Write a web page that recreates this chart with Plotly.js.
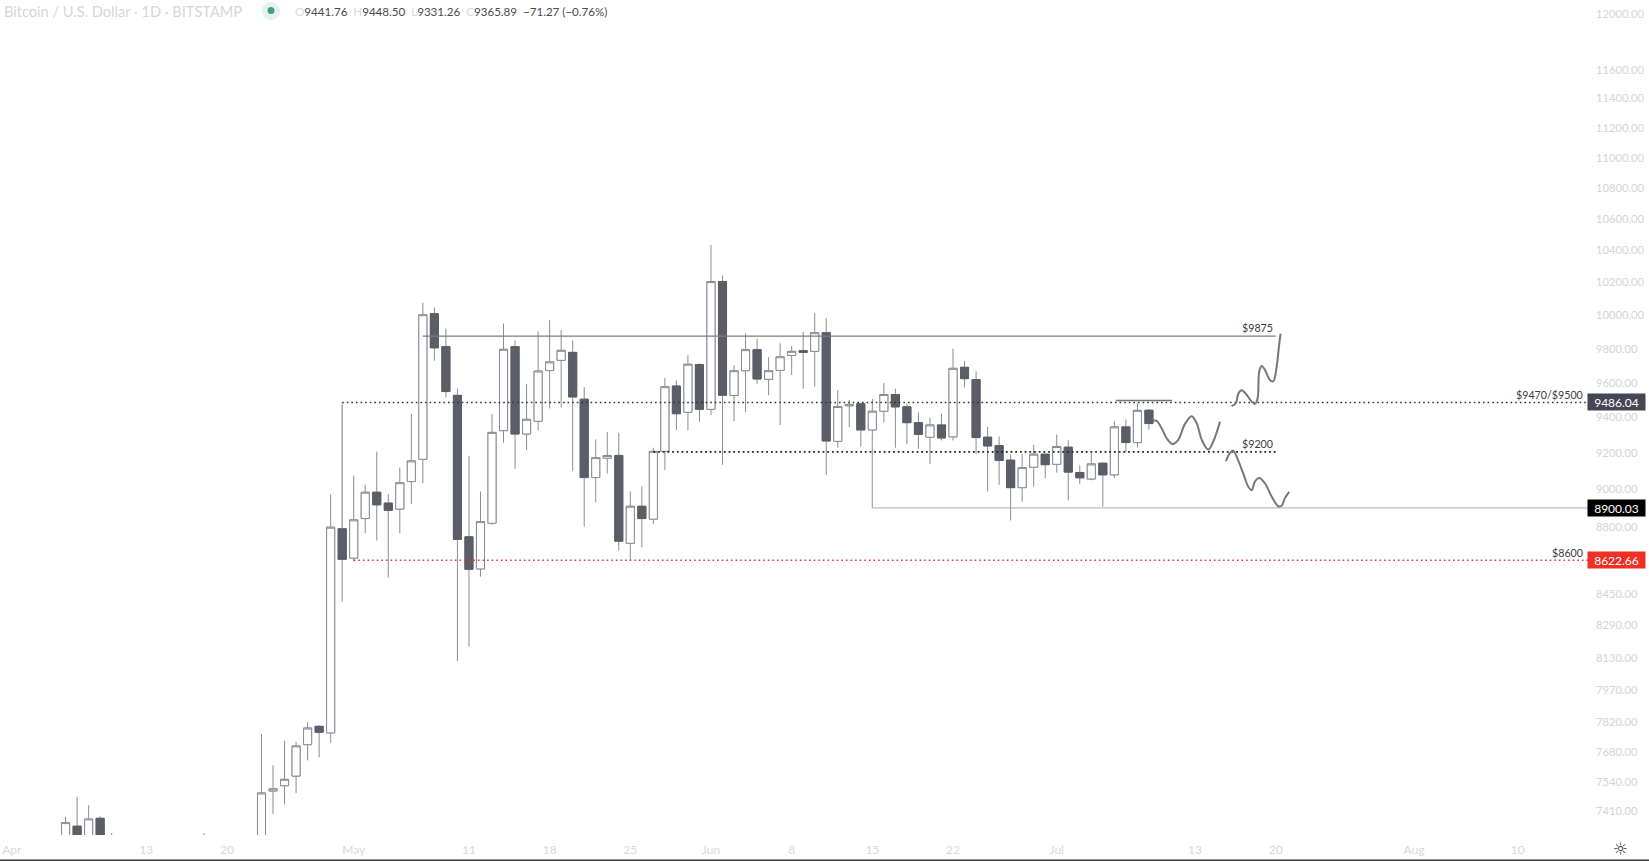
<!DOCTYPE html>
<html><head><meta charset="utf-8">
<script src="https://cdn.plot.ly/plotly-3.0.1.min.js"></script>
<style>html,body{margin:0;padding:0;background:#fff}#c{width:1649px;height:861px}</style>
</head><body><div id="c"></div>
<script>
const dates = ["2020-04-06","2020-04-07","2020-04-08","2020-04-09","2020-04-10","2020-04-18",
"2020-04-23","2020-04-24","2020-04-25","2020-04-26","2020-04-27","2020-04-28","2020-04-29","2020-04-30",
"2020-05-01","2020-05-02","2020-05-03","2020-05-04","2020-05-05","2020-05-06","2020-05-07","2020-05-08","2020-05-09","2020-05-10",
"2020-05-11","2020-05-12","2020-05-13","2020-05-14","2020-05-15","2020-05-16","2020-05-17","2020-05-18","2020-05-19","2020-05-20",
"2020-05-21","2020-05-22","2020-05-23","2020-05-24","2020-05-25","2020-05-26","2020-05-27","2020-05-28","2020-05-29","2020-05-30","2020-05-31",
"2020-06-01","2020-06-02","2020-06-03","2020-06-04","2020-06-05","2020-06-06","2020-06-07","2020-06-08","2020-06-09","2020-06-10",
"2020-06-11","2020-06-12","2020-06-13","2020-06-14","2020-06-15","2020-06-16","2020-06-17","2020-06-18","2020-06-19","2020-06-20",
"2020-06-21","2020-06-22","2020-06-23","2020-06-24","2020-06-25","2020-06-26","2020-06-27","2020-06-28","2020-06-29","2020-06-30",
"2020-07-01","2020-07-02","2020-07-03","2020-07-04","2020-07-05","2020-07-06","2020-07-07","2020-07-08","2020-07-09"];
const opens = [6775,7342,7200,7377,7290,7040,
7130,7500,7524,7568,7713,7799,7768,8789,
8634,8843,8985,8926,8894,9043,9166,10009,9812,9527,
8746,8578,8818,9326,9812,9307,9379,9671,9731,9778,
9505,9065,9172,9187,8712,8909,8840,9210,9581,9430,9706,
9447,10206,9526,9670,9794,9620,9672,9760,9788,9784,
9895,9266,9467,9479,9330,9436,9532,9461,9371,9289,
9358,9291,9690,9618,9289,9242,9161,9010,9122,9194,
9138,9233,9093,9057,9144,9080,9347,9259,9441.76];
const closes = [7358,7200,7374,7290,6870,7250,
7491,7510,7553,7707,7791,7771,8797,8628,
8836,8985,8917,8887,9037,9157,10003,9805,9549,8733,
8576,8827,9316,9796,9307,9390,9668,9722,9790,9518,
9065,9175,9187,8723,8909,8843,9210,9577,9422,9708,9447,
10206,9528,9670,9794,9622,9670,9752,9784,9778,9895,
9268,9463,9475,9330,9436,9532,9461,9371,9305,9358,
9285,9684,9624,9287,9240,9159,9010,9120,9194,9136,
9237,9095,9064,9140,9080,9347,9259,9441,9365.89];
const highs = [7384,7473,7436,7386,7312,7312,
7763,7617,7731,7726,7819,7804,8974,9470,
9076,9025,9208,8976,9120,9420,10076,10048,9920,9567,
9185,8989,9420,9950,9849,9592,9902,9972,9910,9849,
9575,9277,9318,9314,8989,9017,9230,9627,9614,9761,9714,
10434,10243,9703,9891,9859,9749,9832,9816,9899,10012,
9984,9558,9500,9479,9506,9598,9566,9479,9430,9399,
9422,9800,9727,9666,9347,9293,9192,9196,9246,9196,
9304,9272,9131,9200,9149,9379,9389,9482,9448.50];
const lows = [6700,7120,7150,7150,6750,7020,
7050,7397,7440,7490,7640,7654,7721,8410,
8616,8765,8727,8533,8765,8921,9034,9729,9516,8113,
8185,8538,8809,9258,9113,9217,9328,9452,9456,9102,
8800,8930,9088,8674,8624,8691,8813,9107,9329,9328,9375,
9414,9135,9380,9431,9594,9528,9358,9645,9566,9577,
9079,9230,9345,9236,8904,9373,9230,9249,9224,9139,
9271,9271,9572,9196,8990,9025,8833,8933,9015,9062,
9092,8941,9030,9050,8907,9062,9204,9232,9331.26];

const priceTicks = [12000,11600,11400,11200,11000,10800,10600,10400,10200,10000,9800,9600,9400,9200,9000,8800,8450,8290,8130,7970,7820,7680,7540,7410];
const timeTickDates = ["2020-04-01 08:00","2020-04-13","2020-04-20","2020-05-01","2020-05-11","2020-05-18","2020-05-25","2020-06-01","2020-06-08","2020-06-15","2020-06-22","2020-07-01","2020-07-13","2020-07-20","2020-08-01","2020-08-10"];
const timeTickLabels = ["Apr","13","20","May","11","18","25","Jun","8","15","22","Jul","13","20","Aug","10"];

const resistanceX = ["2020-05-07","2020-07-20"], resistanceY = [9875,9875];
const midX = ["2020-04-30","2020-08-17"], midY = [9486.04,9486.04];
const stemX = ["2020-04-30","2020-04-30"], stemY = [9486.04,8790];
const supportX = ["2020-05-27","2020-07-20"], supportY = [9207,9207];
const floorX = ["2020-06-15","2020-06-15","2020-08-17"], floorY = [9300,8900.03,8900.03];
const redX = ["2020-05-01","2020-08-17"], redY = [8622.66,8622.66];
const capX = ["2020-07-06 03:00","2020-07-11 00:00"], capY = [9497,9497];

const waveX = ["2020-07-09 09:00","2020-07-09 16:00","2020-07-10 02:30","2020-07-10 13:00","2020-07-11 01:30","2020-07-11 13:00","2020-07-12 03:00","2020-07-12 17:00","2020-07-13 03:30","2020-07-13 14:00","2020-07-14 03:30","2020-07-14 14:00","2020-07-15 04:00"];
const waveY = [9383,9381,9339,9283,9251,9274,9364,9408,9368,9274,9220,9265,9377];
const upX = ["2020-07-16 04:00","2020-07-16 13:00","2020-07-16 18:00","2020-07-17 01:00","2020-07-17 11:30","2020-07-17 22:00","2020-07-18 04:45","2020-07-18 10:20","2020-07-18 13:40","2020-07-18 18:40","2020-07-19 01:30","2020-07-19 12:00","2020-07-19 18:50","2020-07-20 02:00","2020-07-20 06:40","2020-07-20 10:10"];
const upY = [9465,9482,9536,9557,9530,9491,9478,9511,9665,9698,9675,9616,9608,9694,9811,9890];
const downX = ["2020-07-15 16:20","2020-07-16 00:36","2020-07-16 07:30","2020-07-16 15:50","2020-07-17 04:20","2020-07-17 14:40","2020-07-17 21:50","2020-07-18 04:40","2020-07-18 13:40","2020-07-19 01:30","2020-07-19 15:30","2020-07-20 05:10","2020-07-20 12:20","2020-07-20 19:10","2020-07-21 04:00"];
const downY = [9156,9200,9214,9172,9088,9016,8996,9043,9063,9034,8962,8909,8912,8953,8987];

const W = 1649, H = 861, PW = 1590, PB = 835;
const FONT = 'Lato, "Open Sans", sans-serif';
const px = v => v / PW, py = v => 1 - v / PB;
const seg = (x, y, color, width, dash, shape) => ({
  type:'scatter', mode:'lines', x, y, hoverinfo:'skip', showlegend:false, cliponaxis:true,
  line:{color, width, dash:dash||'solid', shape:shape||'linear', smoothing:1}
});
const traces = [
  {type:'candlestick', x:dates, open:opens, high:highs, low:lows, close:closes, hoverinfo:'skip', showlegend:false,
   whiskerwidth:0,
   increasing:{line:{color:'#8a8c94', width:1}, fillcolor:'#ffffff'},
   decreasing:{line:{color:'#8a8c94', width:1}, fillcolor:'#5b5d69'}},
  {type:'candlestick', x:dates, open:opens, close:closes,
   high:opens.map((o,i)=>Math.max(o,closes[i])), low:opens.map((o,i)=>Math.min(o,closes[i])),
   hoverinfo:'skip', showlegend:false, whiskerwidth:0,
   increasing:{line:{color:'#8a8c94', width:1}, fillcolor:'#ffffff'},
   decreasing:{line:{color:'#5b5d69', width:1}, fillcolor:'#5b5d69'}},
  seg(stemX, stemY, '#a8a8a8', 1),
  seg(midX, midY, '#333333', 1.4, '1.6px,3px'),
  seg(resistanceX, resistanceY, '#7c7c7c', 1.2),
  seg(supportX, supportY, '#222222', 1.7, '1.8px,2.9px'),
  seg(floorX, floorY, '#ababab', 1),
  seg(redX, redY, '#dd3a36', 1.5, '1.6px,3px'),
  seg(capX, capY, '#757575', 1.5),
  seg(waveX, waveY, '#777777', 2, null, 'spline'),
  seg(upX, upY, '#777777', 2, null, 'spline'),
  seg(downX, downY, '#777777', 2, null, 'spline')
];
const tag = (v, txt, bg) => ({xref:'paper', yref:'y', x:px(1587), y:Math.log10(v), xanchor:'left', yanchor:'middle',
  text:txt, showarrow:false, bgcolor:bg, width:57, height:16, borderpad:0, align:'center', font:{family:FONT, size:12, color:'#ffffff'}});
const note = (xp, yp, txt, anchor) => ({xref:'paper', yref:'paper', x:px(xp), y:py(yp), xanchor:anchor||'right', yanchor:'middle',
  text:txt, showarrow:false, borderpad:0, font:{family:FONT, size:10.7, color:'#3c3c3c'}});
const faint = s => '<span style="color:#d9d9d9">'+s+'</span>';
const layout = {
  width:W, height:H, margin:{l:0, r:W-PW, t:0, b:H-PB, pad:0}, paper_bgcolor:'#fff', plot_bgcolor:'#fff',
  showlegend:false, hovermode:false, boxmode:'overlay', boxgap:0.3, boxgroupgap:0,
  xaxis:{type:'date', range:["2020-03-31 07:26","2020-08-16 06:29"], rangeslider:{visible:false},
    tickmode:'array', tickvals:timeTickDates, ticktext:timeTickLabels, showgrid:false, zeroline:false, showline:false, ticks:'',
    ticklabeloverflow:'allow', ticklabelstandoff:6,
    tickfont:{family:FONT, size:12, color:'#d8d8d8'}},
  yaxis:{type:'log', side:'right', range:[Math.log10(7303),Math.log10(12100)], tickmode:'array', tickvals:priceTicks,
    ticktext:priceTicks.map(v=>v.toFixed(2)), showgrid:false, zeroline:false, showline:false, ticks:'',
    ticklabelstandoff:5,
    tickfont:{family:FONT, size:11.2, color:'#d4d4d4'}},
  annotations:[
    tag(9486.04,'9486.04','#444653'), tag(8900.03,'8900.03','#000000'), tag(8622.66,'8622.66','#ee3124'),
    note(1274,327,'$9875'), note(1274,444,'$9200'), note(1584,394,'$9470/$9500'), note(1584,552,'$8600'),
    {xref:'paper', yref:'paper', x:px(2), y:py(11), xanchor:'left', yanchor:'middle', showarrow:false,
     text:'Bitcoin / U.S. Dollar · 1D · BITSTAMP', font:{family:FONT, size:14.6, color:'#d6d6d6'}},
    {xref:'paper', yref:'paper', x:px(293), y:py(11), xanchor:'left', yanchor:'middle', showarrow:false,
     text:faint('O')+'9441.76  '+faint('H')+'9448.50  '+faint('L')+'9331.26  '+faint('C')+'9365.89  −71.27 (−0.76%)',
     font:{family:FONT, size:11.6, color:'#4a4a4a'}},
    {xref:'paper', yref:'paper', x:px(1620), y:py(849), xanchor:'center', yanchor:'middle', showarrow:false,
     text:'☼', font:{family:'DejaVu Sans', size:17, color:'#333333'}}
  ],
  shapes:[
    {type:'circle', xref:'paper', yref:'paper', x0:px(262), x1:px(280), y0:py(20), y1:py(2), fillcolor:'#e4f1ef', line:{width:0}},
    {type:'circle', xref:'paper', yref:'paper', x0:px(267.5), x1:px(274.5), y0:py(14), y1:py(7), fillcolor:'#3f9c8a', line:{width:0}},
    {type:'rect', xref:'paper', yref:'paper', x0:0, x1:W/PW, y0:py(859.5), y1:py(861), fillcolor:'#3a3a3a', line:{width:0}}
  ]
};
Plotly.newPlot('c', traces, layout, {displayModeBar:false, staticPlot:true});
</script></body></html>
